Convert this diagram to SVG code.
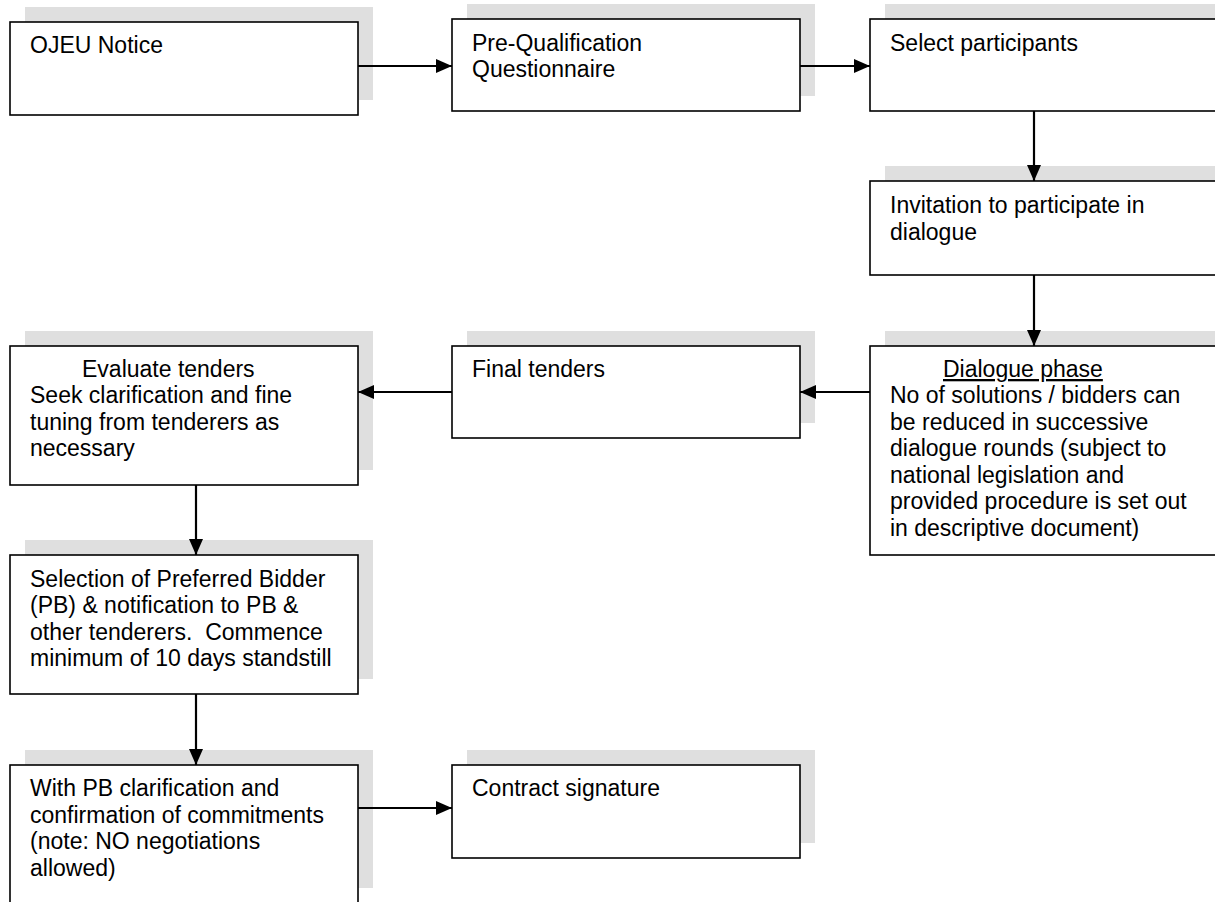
<svg xmlns="http://www.w3.org/2000/svg" width="1215" height="902" viewBox="0 0 1215 902">
<style>
.shadow{fill:#dfdfdf;stroke:none}
.box{fill:#ffffff;stroke:#000000;stroke-width:1.6}
.t{font-family:"Liberation Sans",Arial,sans-serif;font-size:23px;fill:#000000;white-space:pre}
.conn{stroke:#000000;stroke-width:2.2;fill:none;marker-end:url(#arr)}
</style>
<defs>
<marker id="arr" markerUnits="userSpaceOnUse" markerWidth="18" markerHeight="14" refX="16" refY="7" orient="auto">
<path d="M0,0 L16,7 L0,14 Z" fill="#000000"/>
</marker>
</defs>
<rect width="1215" height="902" fill="#ffffff"/>

<g id="ojeu">
<rect class="shadow" x="25" y="7" width="348" height="93"/>
<rect class="box" x="10" y="22" width="348" height="93"/>
<text class="t" x="30" y="53">OJEU Notice</text>
</g>

<g id="pqq">
<rect class="shadow" x="467" y="4" width="348" height="92"/>
<rect class="box" x="452" y="19" width="348" height="92"/>
<text class="t" x="472" y="51">Pre-Qualification</text>
<text class="t" x="472" y="77">Questionnaire</text>
</g>

<g id="select">
<rect class="shadow" x="885" y="4" width="348" height="92"/>
<rect class="box" x="870" y="19" width="348" height="92"/>
<text class="t" x="890" y="51">Select participants</text>
</g>

<g id="invitation">
<rect class="shadow" x="885" y="166" width="348" height="94"/>
<rect class="box" x="870" y="181" width="348" height="94"/>
<text class="t" x="890" y="213">Invitation to participate in</text>
<text class="t" x="890" y="240">dialogue</text>
</g>

<g id="dialogue">
<rect class="shadow" x="885" y="331" width="348" height="209"/>
<rect class="box" x="870" y="346" width="348" height="209"/>
<text class="t" x="943" y="377" text-decoration="underline">Dialogue phase</text>
<text class="t" x="890" y="403">No of solutions / bidders can</text>
<text class="t" x="890" y="430">be reduced in successive</text>
<text class="t" x="890" y="456">dialogue rounds (subject to</text>
<text class="t" x="890" y="483">national legislation and</text>
<text class="t" x="890" y="509">provided procedure is set out</text>
<text class="t" x="890" y="536">in descriptive document)</text>
</g>

<g id="final">
<rect class="shadow" x="467" y="331" width="348" height="92"/>
<rect class="box" x="452" y="346" width="348" height="92"/>
<text class="t" x="472" y="377">Final tenders</text>
</g>

<g id="evaluate">
<rect class="shadow" x="25" y="331" width="348" height="139"/>
<rect class="box" x="10" y="346" width="348" height="139"/>
<text class="t" x="82" y="377">Evaluate tenders</text>
<text class="t" x="30" y="403">Seek clarification and fine</text>
<text class="t" x="30" y="430">tuning from tenderers as</text>
<text class="t" x="30" y="456">necessary</text>
</g>

<g id="selection">
<rect class="shadow" x="25" y="540" width="348" height="139"/>
<rect class="box" x="10" y="555" width="348" height="139"/>
<text class="t" x="30" y="587">Selection of Preferred Bidder</text>
<text class="t" x="30" y="613">(PB) &amp; notification to PB &amp;</text>
<text class="t" x="30" y="640">other tenderers.  Commence</text>
<text class="t" x="30" y="666">minimum of 10 days standstill</text>
</g>

<g id="withpb">
<rect class="shadow" x="25" y="750" width="348" height="138"/>
<rect class="box" x="10" y="765" width="348" height="138"/>
<text class="t" x="30" y="796">With PB clarification and</text>
<text class="t" x="30" y="823">confirmation of commitments</text>
<text class="t" x="30" y="849">(note: NO negotiations</text>
<text class="t" x="30" y="876">allowed)</text>
</g>

<g id="contract">
<rect class="shadow" x="467" y="750" width="348" height="93"/>
<rect class="box" x="452" y="765" width="348" height="93"/>
<text class="t" x="472" y="796">Contract signature</text>
</g>

<g id="connectors">
<line class="conn" x1="358" y1="66" x2="452" y2="66"/>
<line class="conn" x1="800" y1="66" x2="870" y2="66"/>
<line class="conn" x1="1034" y1="111" x2="1034" y2="181"/>
<line class="conn" x1="1034" y1="275" x2="1034" y2="346"/>
<line class="conn" x1="870" y1="392" x2="800" y2="392"/>
<line class="conn" x1="452" y1="392" x2="358" y2="392"/>
<line class="conn" x1="196" y1="485" x2="196" y2="555"/>
<line class="conn" x1="196" y1="694" x2="196" y2="765"/>
<line class="conn" x1="358" y1="808" x2="452" y2="808"/>
</g>
</svg>
